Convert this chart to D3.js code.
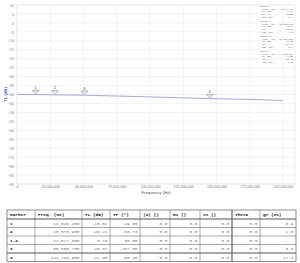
<!DOCTYPE html>
<html>
<head>
<meta charset="utf-8">
<script src="https://cdnjs.cloudflare.com/ajax/libs/d3/7.8.5/d3.min.js"></script>
<style>
  body { margin: 0; background: #fff; }
  svg { display: block; }
</style>
</head>
<body>
<script>
// trace: frequency (Hz) vs transmission loss (dB)
var traceFreq = [0, 14046400, 28573900, 50655700, 75000000, 100000000, 125000000, 144793900, 175000000, 200000000];
var traceTL = [-39.95, -40.02, -40.21, -40.37, -40.85, -41.35, -41.9, -42.30, -42.75, -43.3];

var markerNames = ["1", "2", "1-2", "3", "4"];
var markerFreq = ["14,046,400", "28,573,900", "14,527,500", "50,655,700", "144,793,900"];
var markerTL = ["-40.02", "-40.21", "0.19", "-40.37", "-42.30"];
var markerTP = ["-29.85", "-60.73", "30.88", "-107.06", "58.48"];
var markerZ = ["0.0", "0.0", "0.0", "0.0", "0.0"];
var markerRs = ["0.0", "0.0", "0.0", "0.0", "0.0"];
var markerXs = ["0.0", "0.0", "0.0", "0.0", "0.0"];
var markerTheta = ["0.0", "0.0", "0.0", "0.0", "0.0"];
var markerGD = ["6.9", "1.8", "----", "-3.9", "17.3"];

// markers drawn on the trace (no delta marker)
var plotMarkers = [0, 1, 3, 4];
var markerHz = [14046400, 28573900, 14527500, 50655700, 144793900];
var markerDb = [-40.02, -40.21, 0.19, -40.37, -42.30];

var yTicks = d3.range(10, -91, -5);
var xTicks = d3.range(0, 200000001, 25000000);

var headers = ["Marker", "Freq. (Hz)", "TL (dB)", "TP (\u00b0)", "|Z| ()", "Rs ()", "Xs ()", "Theta", "gr (ns)"];

chart();

function chart ()
{
    var width = 300,
        height = 263;
    var plot = {left: 17, top: 5, right: 295, bottom: 184};

    var svg = d3.select("body").append("svg")
        .attr("width", width)
        .attr("height", height);

    var xScale = d3.scaleLinear().domain([0, 209000000]).range([plot.left, plot.right]);
    var yScale = d3.scaleLinear().domain([-90, 10]).range([plot.bottom, plot.top]);

    svg.append("rect")
        .attr("x", plot.left)
        .attr("y", plot.top)
        .attr("width", plot.right - plot.left)
        .attr("height", plot.bottom - plot.top)
        .attr("fill", "#fff")
        .attr("stroke", "#e2e2e2")
        .attr("stroke-width", 0.6);

    // grid
    svg.append("g").selectAll("line")
        .data(yTicks)
        .enter()
        .append("line")
        .attr("x1", plot.left)
        .attr("x2", plot.right)
        .attr("y1", d => yScale(d))
        .attr("y2", d => yScale(d))
        .attr("stroke", "#ececec")
        .attr("stroke-width", 0.6);

    svg.append("g").selectAll("line")
        .data(xTicks)
        .enter()
        .append("line")
        .attr("x1", d => xScale(d))
        .attr("x2", d => xScale(d))
        .attr("y1", plot.top)
        .attr("y2", plot.bottom)
        .attr("stroke", "#ececec")
        .attr("stroke-width", 0.6);

    var xAxis = d3.axisBottom(xScale)
        .tickValues(xTicks)
        .tickSize(0)
        .tickPadding(1.5)
        .tickFormat(d3.format(","));
    var yAxis = d3.axisLeft(yScale)
        .tickValues(yTicks)
        .tickSize(0)
        .tickPadding(3)
        .tickFormat(d3.format("d"));

    var gx = svg.append("g")
        .attr("transform", "translate(0," + plot.bottom + ")")
        .call(xAxis);
    var gy = svg.append("g")
        .attr("transform", "translate(" + plot.left + ",0)")
        .call(yAxis);

    [gx, gy].forEach(function (g)
    {
        g.select(".domain").remove();
        g.selectAll("text")
            .attr("fill", "#777")
            .style("font-family", "'Liberation Sans', Arial, sans-serif")
            .style("font-size", "3.6px");
    });

    svg.append("text")
        .attr("x", (plot.left + plot.right) / 2)
        .attr("y", plot.bottom + 10)
        .attr("text-anchor", "middle")
        .attr("fill", "#555")
        .style("font-family", "'Liberation Sans', Arial, sans-serif")
        .style("font-size", "4.2px")
        .text("Frequency (Hz)");

    // y label, placed at the trace level
    svg.append("text")
        .attr("transform", "translate(6.5," + yScale(-40) + ") rotate(-90)")
        .attr("text-anchor", "middle")
        .attr("fill", "#3b5bff")
        .style("font-family", "'Liberation Sans', Arial, sans-serif")
        .style("font-size", "4.2px")
        .style("font-weight", "bold")
        .text("TL (dB)");

    // trace
    var data = traceFreq.map((f, i) => ({x: f, y: traceTL[i]}));
    var line = d3.line()
        .x(d => xScale(d.x))
        .y(d => yScale(d.y));

    svg.append("path")
        .attr("d", line(data))
        .attr("fill", "none")
        .attr("stroke", "#9a9af0")
        .attr("stroke-width", 0.9);

    // marker flags
    var mk = svg.append("g").selectAll("g")
        .data(plotMarkers)
        .enter()
        .append("g")
        .attr("transform", i => "translate(" + xScale(markerHz[i]) + "," + yScale(markerDb[i]) + ")");

    mk.append("path")
        .attr("d", "M-3.5,-4.2 L3.5,-4.2 L0,-0.6 Z")
        .attr("fill", "#fff")
        .attr("stroke", "#888")
        .attr("stroke-width", 0.6);
    mk.append("line")
        .attr("x1", -2.5).attr("x2", 2.5)
        .attr("y1", -3.2).attr("y2", -3.2)
        .attr("stroke", "#aaa")
        .attr("stroke-width", 0.4);
    mk.append("text")
        .attr("y", -5.6)
        .attr("text-anchor", "middle")
        .attr("fill", "#444")
        .style("font-family", "'Liberation Sans', Arial, sans-serif")
        .style("font-size", "3.8px")
        .text(i => markerNames[i]);

    // marker readout boxes, top right
    var info = svg.append("g").selectAll("g")
        .data(plotMarkers)
        .enter()
        .append("g")
        .attr("transform", (d, k) => "translate(260," + (7 + k * 15) + ")")
        .style("font-family", "'Liberation Mono', monospace")
        .style("font-size", "2.3px")
        .attr("fill", "#555");

    info.append("text").attr("x", 0).attr("y", 0).text(i => "Marker " + markerNames[i]);
    var rows = [
        ["Freq. (Hz)", i => markerFreq[i]],
        ["TL (dB)", i => markerTL[i]],
        ["TP (\u00b0)", i => markerTP[i]],
        ["TGD (ns)", i => markerGD[i]]
    ];
    rows.forEach(function (r, k)
    {
        info.append("text").attr("x", 2).attr("y", 2.7 * (k + 1)).text(r[0]);
        info.append("text").attr("x", 33).attr("y", 2.7 * (k + 1))
            .attr("text-anchor", "end").text(r[1]);
    });

    table(svg);
}

function table (svg)
{
    var cols = [7, 35, 82, 110, 140, 170, 200, 232, 260, 296];
    var top = 210,
        headH = 9,
        rowH = 8.5;
    var columns = [markerNames, markerFreq, markerTL, markerTP, markerZ, markerRs, markerXs, markerTheta, markerGD];

    var g = svg.append("g")
        .style("font-family", "'Liberation Mono', 'Courier New', monospace")
        .style("font-size", "4.4px");

    var bottom = top + headH + rowH * markerNames.length;

    g.append("rect")
        .attr("x", cols[0]).attr("y", top)
        .attr("width", cols[cols.length - 1] - cols[0])
        .attr("height", bottom - top)
        .attr("fill", "none")
        .attr("stroke", "#444")
        .attr("stroke-width", 0.6);

    cols.slice(1, -1).forEach(function (c, k)
    {
        g.append("line")
            .attr("x1", c).attr("x2", c)
            .attr("y1", top).attr("y2", bottom)
            .attr("stroke", "#555")
            .attr("stroke-width", k == 6 ? 1.1 : 0.5);
    });

    for (var r = 1; r <= markerNames.length; r++)
    {
        var yy = top + headH + rowH * (r - 1);
        g.append("line")
            .attr("x1", cols[0]).attr("x2", cols[cols.length - 1])
            .attr("y1", yy).attr("y2", yy)
            .attr("stroke", "#555")
            .attr("stroke-width", (r == 1 || r == 5) ? 1.1 : 0.5);
    }

    headers.forEach(function (h, k)
    {
        g.append("text")
            .attr("x", cols[k] + 3)
            .attr("y", top + headH / 2 + 1.5)
            .attr("fill", "#111")
            .style("font-weight", "bold")
            .text(h);
    });

    columns.forEach(function (col, k)
    {
        col.forEach(function (v, r)
        {
            var yy = top + headH + rowH * r + rowH / 2 + 1.5;
            if (k == 0)
            {
                g.append("text")
                    .attr("x", cols[0] + 3).attr("y", yy)
                    .attr("fill", "#111")
                    .style("font-weight", "bold")
                    .text(v);
            }
            else
            {
                g.append("text")
                    .attr("x", cols[k + 1] - 2.5).attr("y", yy)
                    .attr("text-anchor", "end")
                    .attr("fill", "#777")
                    .text(v);
            }
        });
    });
}
</script>
</body>
</html>
